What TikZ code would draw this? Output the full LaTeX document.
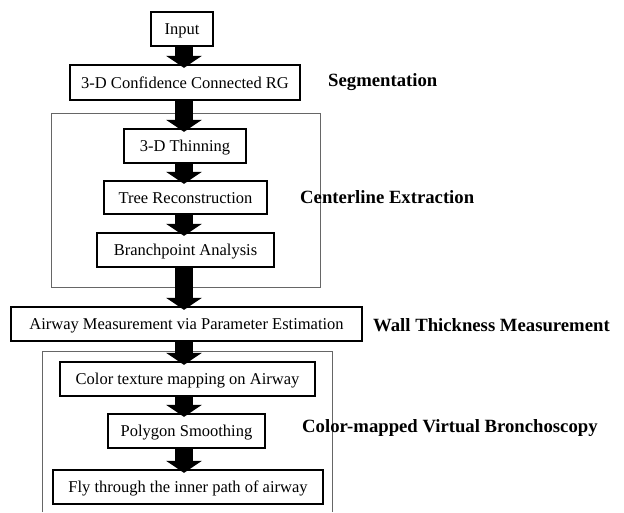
\documentclass[tikz,border=0pt]{standalone}
\usepackage{fontspec}
\setmainfont{Liberation Serif}
\usetikzlibrary{arrows.meta}
\begin{document}
\begin{tikzpicture}[x=1pt,y=-1pt,
  stepbox/.style={draw=black, line width=2.2pt, inner sep=0pt, font=\fontsize{16.5}{19}\selectfont, text height=11pt, text depth=0pt},
  grp/.style={draw=black!60, line width=1pt},
  lab/.style={anchor=west, font=\fontsize{18.7}{21}\selectfont\bfseries, inner sep=0pt},
  blk/.style={line width=18pt, draw=black, -{Triangle[width=35pt,length=12pt]}, shorten >=-4pt}]
\useasboundingbox (0,0) rectangle (624,512);
% group frames
\draw[grp] (51,113) rectangle (320,287);
\draw[grp] (42,512) |- (332,351) -- (332,512);
% boxes
\node[stepbox, minimum width=62pt, minimum height=34pt] (input) at (182,29) {Input};
\node[stepbox, minimum width=230pt, minimum height=35pt] (conf) at (185,82.5) {3-D Confidence Connected RG};
\node[stepbox, minimum width=122pt, minimum height=34pt] (thin) at (185,146) {3-D Thinning};
\node[stepbox, minimum width=163pt, minimum height=33pt] (tree) at (185.5,197.5) {Tree Reconstruction};
\node[stepbox, minimum width=177pt, minimum height=34pt] (branch) at (185.5,250) {Branchpoint Analysis};
\node[stepbox, minimum width=351pt, minimum height=34pt] (airway) at (186.5,324) {Airway Measurement via Parameter Estimation};
\node[stepbox, minimum width=255pt, minimum height=34pt] (color) at (187.5,379) {Color texture mapping on Airway};
\node[stepbox, minimum width=157pt, minimum height=34pt] (poly) at (186.5,431) {Polygon Smoothing};
\node[stepbox, minimum width=270pt, minimum height=34pt] (fly) at (188,487) {Fly through the inner path of airway};
% labels
\node[lab] (lseg) at (328,82) {Segmentation};
\node[lab] (lcen) at (300,197) {Centerline Extraction};
\node[lab] (lwall) at (373,325) {Wall Thickness Measurement};
\node[lab] (lcol) at (302,428) {Color-mapped Virtual Bronchoscopy};
% arrows
\coordinate (ax) at (184,0);
\draw[blk] (input.south -| ax) -- (conf.north -| ax);
\draw[blk] (conf.south -| ax) -- (thin.north -| ax);
\draw[blk] (thin.south -| ax) -- (tree.north -| ax);
\draw[blk] (tree.south -| ax) -- (branch.north -| ax);
\draw[blk] (branch.south -| ax) -- (airway.north -| ax);
\draw[blk] (airway.south -| ax) -- (color.north -| ax);
\draw[blk] (color.south -| ax) -- (poly.north -| ax);
\draw[blk] (poly.south -| ax) -- (fly.north -| ax);
\end{tikzpicture}
\end{document}
